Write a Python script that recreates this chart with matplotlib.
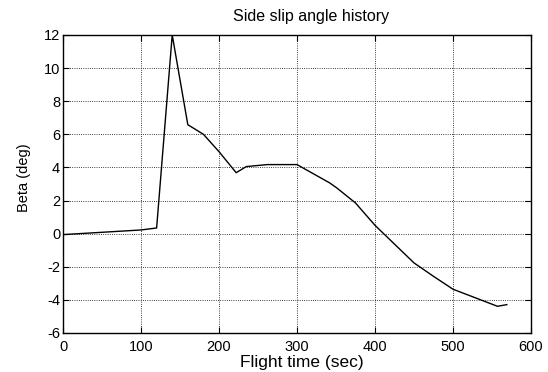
import matplotlib
matplotlib.use("Agg")
import matplotlib.pyplot as plt
from matplotlib.ticker import FuncFormatter

time_s = [0, 100, 120, 140, 160, 180, 200, 222, 235, 262, 300, 342, 351, 375, 400, 450, 475, 500, 557, 569]
beta_deg = [-0.06, 0.22, 0.34, 12.0, 6.58, 6.0, 4.95, 3.68, 4.05, 4.17, 4.17, 3.06, 2.76, 1.85, 0.5, -1.77, -2.58, -3.36, -4.39, -4.29]

xticks = [0, 100, 200, 300, 400, 500, 600]
yticks = [-6, -4, -2, 0, 2, 4, 6, 8, 10, 12]

plt.rcParams['font.family'] = ['Liberation Sans', 'DejaVu Sans']

fig = plt.figure(figsize=(5.48, 3.72), dpi=100)
ax = fig.add_axes([0.115, 0.105, 0.854, 0.801])
ax.plot(time_s, beta_deg, color='black', linewidth=1.0)
ax.set_xlim(0, 600)
ax.set_ylim(-6, 12)
ax.set_xticks(xticks)
ax.set_yticks(yticks)
ax.yaxis.set_major_formatter(FuncFormatter(lambda v, p: '%d' % v))
ax.grid(True, color='black', linestyle=':', linewidth=0.6)
ax.tick_params(direction='in', labelsize=10.5, top=True, right=True, length=4)
ax.tick_params(axis='y', pad=2)
ax.tick_params(axis='x', pad=5)
for s in ax.spines.values():
    s.set_linewidth(1.0)
ax.set_title('Side slip angle history', fontsize=11.5, pad=10, x=0.53)
ax.set_xlabel('Flight time (sec)', fontsize=12.5, labelpad=1)
ax.xaxis.set_label_coords(0.51, -0.075)
ax.set_ylabel('Beta (deg)', fontsize=10.5)
ax.yaxis.set_label_coords(-0.068, 0.52)

fig.savefig('out.png', dpi=100)
